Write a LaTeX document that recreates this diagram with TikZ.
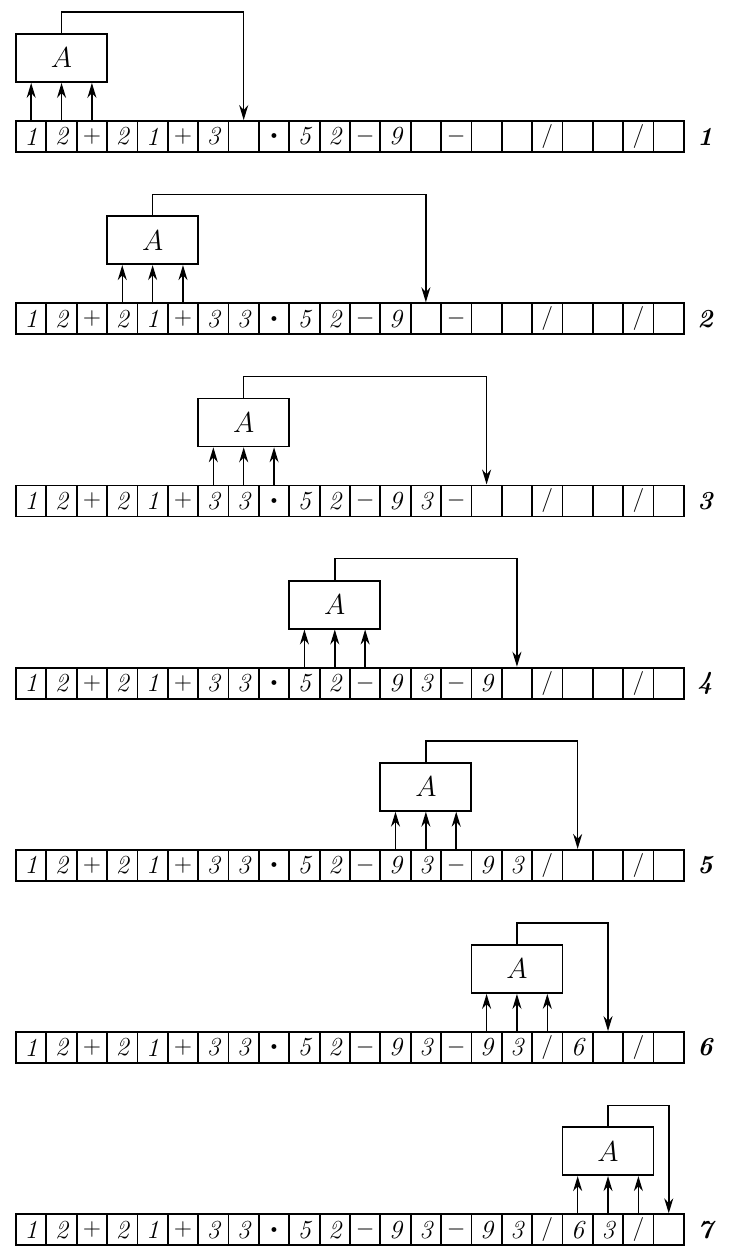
\documentclass[tikz,border=0pt]{standalone}
\usetikzlibrary{arrows.meta}
\newcommand{\mdot}{{\tiny$\bullet$}}
\newcommand{\sla}{$/$}
\newcommand{\mns}{$-$}
\newcommand{\pls}{$+$}
\tikzset{
  cell/.style={draw, line width=0.9pt, minimum width=15.18pt, minimum height=15.5pt,
    inner sep=0pt, font=\fontsize{13}{15}\selectfont\itshape},
  unit/.style={draw, line width=0.9pt, minimum width=45.5pt, minimum height=24pt,
    inner sep=0pt, font=\fontsize{14}{16}\selectfont},
  feed/.style={-{Stealth[length=7.5pt,width=4.5pt]}, line width=0.75pt},
  rowno/.style={font=\fontsize{13}{15}\selectfont\bfseries\itshape},
}
\begin{document}
\begin{tikzpicture}[x=0.5pt, y=-0.5pt]
  \useasboundingbox (0,0) rectangle (739,1246);
  \foreach \k/\w/\tape in {
    1/7/{1,2,\pls,2,1,\pls,3,{},\mdot,5,2,\mns,9,{},\mns,{},{},\sla,{},{},\sla,{}},
    2/13/{1,2,\pls,2,1,\pls,3,3,\mdot,5,2,\mns,9,{},\mns,{},{},\sla,{},{},\sla,{}},
    3/15/{1,2,\pls,2,1,\pls,3,3,\mdot,5,2,\mns,9,3,\mns,{},{},\sla,{},{},\sla,{}},
    4/16/{1,2,\pls,2,1,\pls,3,3,\mdot,5,2,\mns,9,3,\mns,9,{},\sla,{},{},\sla,{}},
    5/18/{1,2,\pls,2,1,\pls,3,3,\mdot,5,2,\mns,9,3,\mns,9,3,\sla,{},{},\sla,{}},
    6/19/{1,2,\pls,2,1,\pls,3,3,\mdot,5,2,\mns,9,3,\mns,9,3,\sla,6,{},\sla,{}},
    7/21/{1,2,\pls,2,1,\pls,3,3,\mdot,5,2,\mns,9,3,\mns,9,3,\sla,6,3,\sla,{}}}{
    \pgfmathsetmacro{\ytop}{121+182.2*(\k-1)}
    % Tape
    \foreach \s [count=\i from 0] in \tape
      \node[cell] (c\k-\i) at (31.18+30.36*\i, \ytop+15.5) {\s};
    \node[rowno] (n\k) at (705, \ytop+15.5) {\k};
    % Unit A
    \pgfmathtruncatemacro{\m}{3*(\k-1)+1}
    \pgfmathsetmacro{\xa}{31.18+30.36*\m}
    \node[unit] (A\k) at (\xa, \ytop-63) {$A$};
    % Reading
    \foreach \j in {0,1,2}{
      \pgfmathtruncatemacro{\n}{3*(\k-1)+\j}
      \draw[feed] (c\k-\n.north) -- (c\k-\n.north |- A\k.south);
    }
    % Writing
    \draw[feed] (A\k.north) -- ++(0,-21) -| (c\k-\w.north);
  }
\end{tikzpicture}
\end{document}
